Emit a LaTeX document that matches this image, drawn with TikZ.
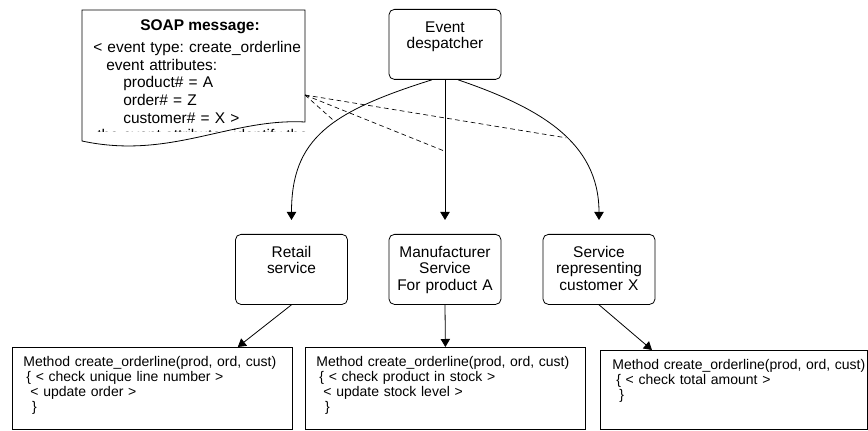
\documentclass[tikz,border=0pt]{standalone}
\usepackage{fontspec}
\setmainfont{Liberation Sans}
\usetikzlibrary{arrows.meta}

\begin{document}
\frenchspacing
\begin{tikzpicture}[x=0.75pt, y=-0.75pt,
    service/.style={draw, line width=0.6pt, rounded corners=4pt, anchor=north,
        align=center, text width=84pt, inner sep=0pt,
        text height=17pt, text depth=35.5pt,
        font=\fontsize{11.6}{12.4}\selectfont},
    method/.style={draw, line width=0.6pt, anchor=north west, align=left,
        inner xsep=8.25pt, inner ysep=0pt, text height=14.25pt,
        font=\fontsize{10.5}{11.25}\selectfont},
    flow/.style={line width=0.6pt, -{Triangle[length=6pt,width=7pt]}},
    hint/.style={line width=0.5pt, dash pattern=on 3.5pt off 2.5pt}]

    \useasboundingbox (0,0) rectangle (868,431);

    % SOAP message sheet
    \draw[line width=0.6pt] (82,10) -- (305,10) -- (305,122)
        .. controls (230,118) and (170,160) .. (82,141) -- cycle;
    \coordinate (sheet) at (305,95);
    \node[anchor=base, inner sep=0pt, font=\fontsize{11.6}{13.3}\selectfont\bfseries]
        (title) at (200,30.5) {SOAP message:};
    \node[anchor=base west, text width=190pt, align=left, inner sep=0pt,
        font=\fontsize{11.6}{13.3}\selectfont] (soap) at (93,52.5)
        {< event type: create\_orderline\\
         \hspace*{9.75pt}event attributes:\\
         \hspace*{22.5pt}product\# = A\\
         \hspace*{22.5pt}order\# = Z\\
         \hspace*{22.5pt}customer\# = X >};
    \begin{scope}
        \clip (82,10) rectangle (305,132);
        \node[anchor=base west, inner sep=0pt, font=\fontsize{11.6}{13.3}\selectfont]
            (rest) at (97,141) {the event attributes identify the line};
    \end{scope}

    % Services
    \node[service] (desp) at (445,9) {Event\\despatcher};
    \node[service] (retail) at (291.5,234) {Retail\\service};
    \node[service] (maker) at (445,234) {Manufacturer\\Service\\For product A};
    \node[service] (client) at (599,234) {Service\\representing\\customer X};

    % Methods
    \node[method, text width=193.5pt, text depth=47.25pt] (m1) at (12,347)
        {Method create\_orderline(prod, ord, cust)\\
         \hspace*{2.3pt}\{ < check unique line number >\\
         \hspace*{5.3pt}< update order >\\
         \hspace*{6.5pt}\}};
    \node[method, text width=193.5pt, text depth=47.25pt] (m2) at (305,347)
        {Method create\_orderline(prod, ord, cust)\\
         \hspace*{2.3pt}\{ < check product in stock >\\
         \hspace*{5.3pt}< update stock level >\\
         \hspace*{6.5pt}\}};
    \node[method, inner xsep=1.5pt, text width=197.25pt, text depth=45pt] (m3) at (600,350)
        {\hspace*{7.5pt}Method create\_orderline(prod, ord, cust)\\
         \hspace*{10.5pt}\{ < check total amount >\\
         \hspace*{12.8pt}\}};

    % Event routing
    \draw[flow] ([xshift=-9.75pt]desp.south) .. controls +(-102,32) and +(0,-81) ..
        ([yshift=10.5pt]retail.north) coordinate[pos=0.42] (hitL);
    \draw[flow] (desp.south) -- ([yshift=10.5pt]maker.north) coordinate[pos=0.51] (hitM);
    \draw[flow] ([xshift=9.75pt]desp.south) .. controls +(82,28) and +(0,-78) ..
        ([yshift=10.5pt]client.north) coordinate[pos=0.55] (hitR);

    \draw[hint] (sheet) -- (hitL);
    \draw[hint] (sheet) -- (hitM);
    \draw[hint] (sheet) -- (hitR);

    % Calls
    \draw[flow] (retail.south) -- ([xshift=-41.25pt]m1.north east);
    \draw[flow] (maker.south) -- (m2.north);
    \draw[flow] (client.south) -- ([xshift=39pt]m3.north west);
\end{tikzpicture}
\end{document}
